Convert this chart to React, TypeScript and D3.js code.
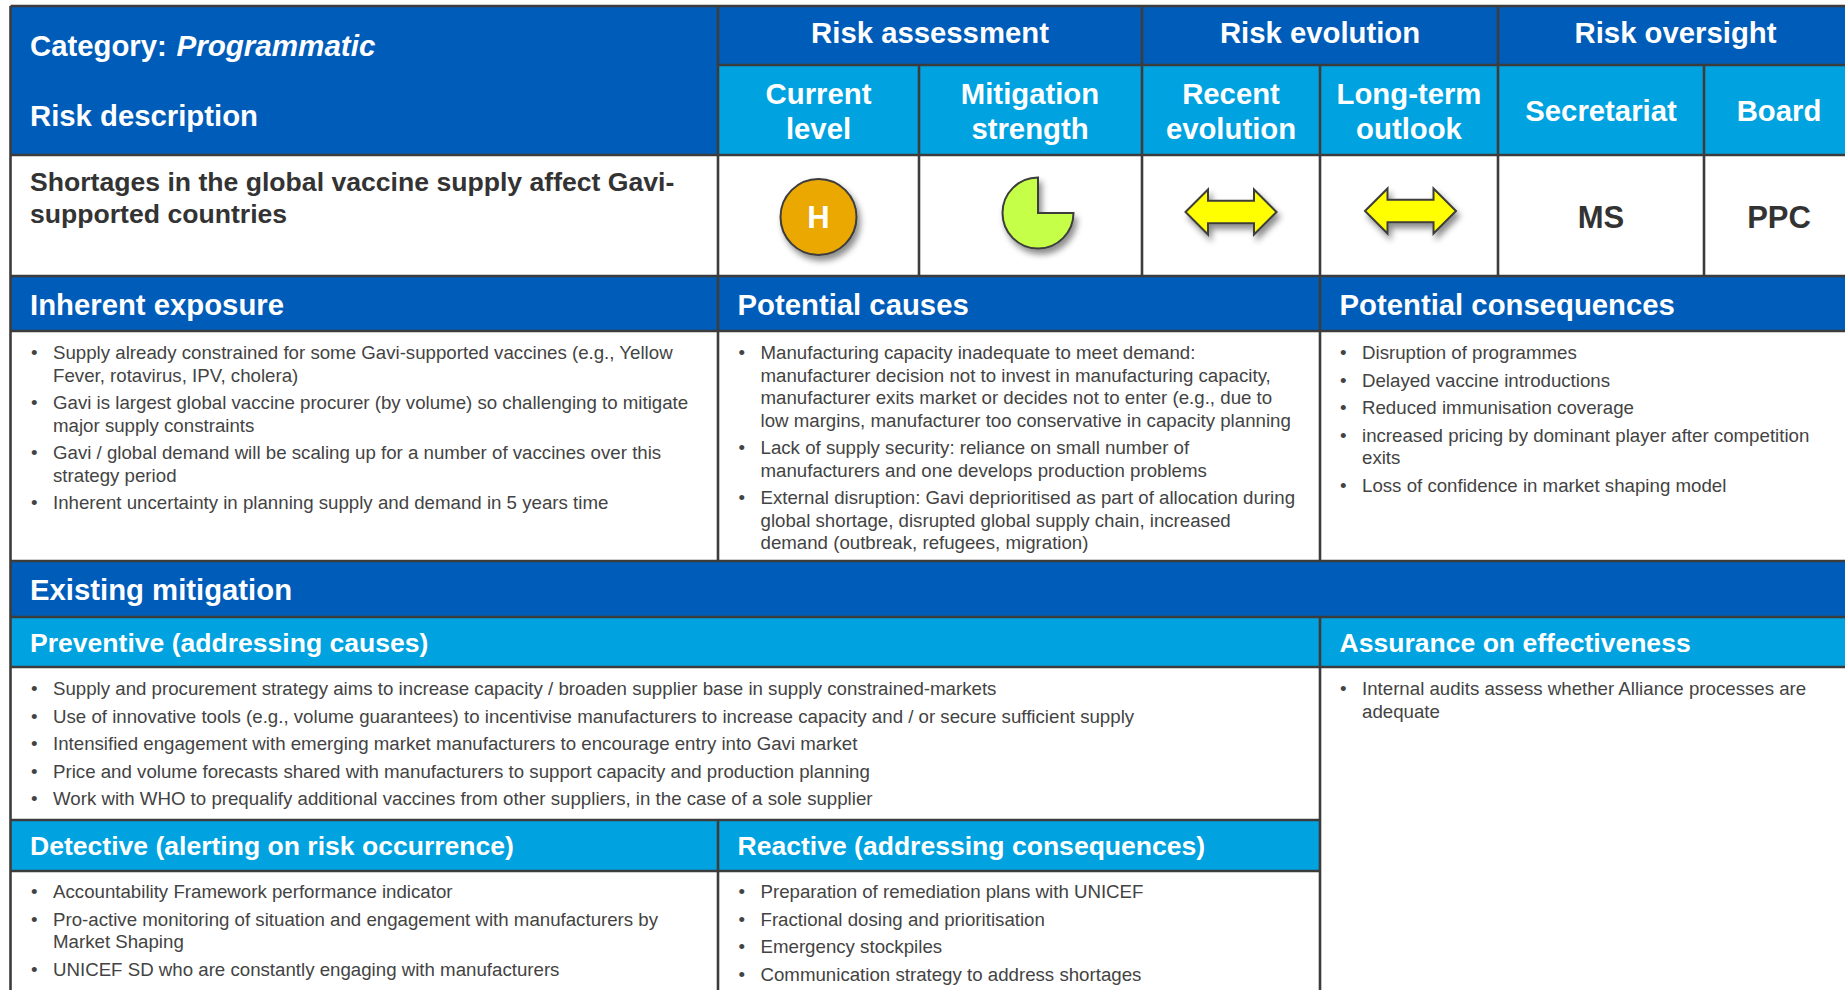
import React from "react";
import * as d3 from "d3";

// text of the risk sheet
const riskTitle = ["Shortages in the global vaccine supply affect Gavi-", "supported countries"];
const groupHeads = ["Risk assessment", "Risk evolution", "Risk oversight"];
const subHeads = [["Current", "level"], ["Mitigation", "strength"], ["Recent", "evolution"], ["Long-term", "outlook"], ["Secretariat"], ["Board"]];
const oversight = ["MS", "PPC"];
const levelLabel = "H";
const mitigationShare = 0.75;

const inherentExposure = [
  ["Supply already constrained for some Gavi-supported vaccines (e.g., Yellow", "Fever, rotavirus, IPV, cholera)"],
  ["Gavi is largest global vaccine procurer (by volume) so challenging to mitigate", "major supply constraints"],
  ["Gavi / global demand will be scaling up for a number of vaccines over this", "strategy period"],
  ["Inherent uncertainty in planning supply and demand in 5 years time"],
];
const potentialCauses = [
  ["Manufacturing capacity inadequate to meet demand:", "manufacturer decision not to invest in manufacturing capacity,", "manufacturer exits market or decides not to enter (e.g., due to", "low margins, manufacturer too conservative in capacity planning"],
  ["Lack of supply security: reliance on small number of", "manufacturers and one develops production problems"],
  ["External disruption: Gavi deprioritised as part of allocation during", "global shortage, disrupted global supply chain, increased", "demand (outbreak, refugees, migration)"],
];
const potentialConsequences = [
  ["Disruption of programmes"],
  ["Delayed vaccine introductions"],
  ["Reduced immunisation coverage"],
  ["increased pricing by dominant player after competition", "exits"],
  ["Loss of confidence in market shaping model"],
];
const preventive = [
  ["Supply and procurement strategy aims to increase capacity / broaden supplier base in supply constrained-markets"],
  ["Use of innovative tools (e.g., volume guarantees) to incentivise manufacturers to increase capacity and / or secure sufficient supply"],
  ["Intensified engagement with emerging market manufacturers to encourage entry into Gavi market"],
  ["Price and volume forecasts shared with manufacturers to support capacity and production planning"],
  ["Work with WHO to prequalify additional vaccines from other suppliers, in the case of a sole supplier"],
];
const assurance = [["Internal audits assess whether Alliance processes are", "adequate"]];
const detective = [
  ["Accountability Framework performance indicator"],
  ["Pro-active monitoring of situation and engagement with manufacturers by", "Market Shaping"],
  ["UNICEF SD who are constantly engaging with manufacturers"],
];
const reactive = [
  ["Preparation of remediation plans with UNICEF"],
  ["Fractional dosing and prioritisation"],
  ["Emergency stockpiles"],
  ["Communication strategy to address shortages"],
];

const W = 1845;
const H = 990;
const DARK = "#005cb9";
const LIGHT = "#00a3e0";
const LINE = "#3c3c3c";
const INK = "#333333";
const BODY_INK = "#434343";
const FONT = "'Liberation Sans', Arial, sans-serif";
const HEAD_SIZE = 29.3;
const SUB_SIZE = 26.55;
const BODY_SIZE = 18.68;
const LINE_GAP = 22.5;
const PARA_GAP = 27.5;

// column and row edges of the grid
const X = [10.5, 718, 919, 1142, 1320, 1498, 1704, W + 8];
const Y = [6, 65, 155, 276, 331, 561, 617, 667, 820, 871, H + 4];

const App = () => {
  const svgRef = React.useRef<SVGSVGElement>(null);

  React.useEffect(() => {
    const svg = d3.select(svgRef.current);
    svg.selectAll("*").remove();

    const shadow = svg.append("defs").append("filter").attr("id", "shadow")
      .attr("x", "-30%").attr("y", "-30%").attr("width", "170%").attr("height", "170%");
    shadow.append("feDropShadow").attr("dx", 3).attr("dy", 5).attr("stdDeviation", 3)
      .attr("flood-color", "#000").attr("flood-opacity", 0.45);

    const band = (x0, x1, y0, y1, fill) =>
      svg.append("rect").attr("x", x0).attr("y", y0).attr("width", x1 - x0).attr("height", y1 - y0).attr("fill", fill);

    // filled bands
    band(X[0], X[7], Y[0], Y[1], DARK);
    band(X[0], X[1], Y[1], Y[2], DARK);
    band(X[1], X[7], Y[1], Y[2], LIGHT);
    band(X[0], X[7], Y[3], Y[4], DARK);
    band(X[0], X[7], Y[5], Y[6], DARK);
    band(X[0], X[7], Y[6], Y[7], LIGHT);
    band(X[0], X[4], Y[8], Y[9], LIGHT);

    // grid lines
    const rule = (x0, y0, x1, y1, w = 2.6, c = LINE) =>
      svg.append("line").attr("x1", x0).attr("y1", y0).attr("x2", x1).attr("y2", y1).attr("stroke", c).attr("stroke-width", w);
    [0, 2, 3, 4, 5, 6, 7].forEach((i) => rule(X[0], Y[i], X[7], Y[i]));
    rule(X[1], Y[1], X[7], Y[1]);
    rule(X[0], Y[8], X[4], Y[8]);
    rule(X[0], Y[9], X[4], Y[9]);
    rule(X[0], Y[0], X[0], H);
    rule(X[1], Y[0], X[1], Y[5]);
    rule(X[1], Y[8], X[1], H);
    rule(X[2], Y[1], X[2], Y[3]);
    rule(X[3], Y[0], X[3], Y[3]);
    rule(X[4], Y[1], X[4], Y[3]);
    rule(X[4], Y[3], X[4], Y[5]);
    rule(X[4], Y[6], X[4], H);
    rule(X[5], Y[0], X[5], Y[3]);
    rule(X[6], Y[1], X[6], Y[3]);

    const label = (t, x, y, { size = HEAD_SIZE, fill = "#fff", bold = true, anchor = "start" } = {}) =>
      svg.append("text").attr("x", x).attr("y", y).text(t)
        .attr("font-family", FONT).attr("font-size", size)
        .attr("font-weight", bold ? 700 : 400)
        .attr("text-anchor", anchor).attr("fill", fill);

    // headers
    const cat = label("Category: ", 30, 55.5);
    cat.append("tspan").attr("font-style", "italic").attr("dx", 1.5).attr("font-size", 29.6).text("Programmatic");
    label("Risk description", 30, 125.5);
    riskTitle.forEach((t, i) => label(t, 30, 191 + i * 32, { size: 26.6, fill: INK }));
    label("Inherent exposure", 30, 314.5);
    label("Potential causes", 737.5, 314.5);
    label("Potential consequences", 1339.5, 314.5);
    label("Existing mitigation", 30, 600);
    label("Preventive (addressing causes)", 30, 651.5, { size: SUB_SIZE });
    label("Assurance on effectiveness", 1339.5, 651.5, { size: SUB_SIZE });
    label("Detective (alerting on risk occurrence)", 30, 855, { size: SUB_SIZE });
    label("Reactive (addressing consequences)", 737.5, 855, { size: SUB_SIZE });

    const groupCols = [[1, 3], [3, 5], [5, 7]];
    groupHeads.forEach((t, i) => {
      const [a, b] = groupCols[i];
      label(t, (X[a] + X[b]) / 2, 43, { anchor: "middle" });
    });

    const colCentre = d3.scaleOrdinal<number, number>()
      .domain(d3.range(6))
      .range([818.5, 1030, 1231, 1409, 1601, 1779]);
    subHeads.forEach((lines, i) => {
      if (lines.length === 1) label(lines[0], colCentre(i), 120.5, { anchor: "middle" });
      else lines.forEach((t, j) => label(t, colCentre(i), 104 + j * 35, { anchor: "middle" }));
    });
    oversight.forEach((t, i) => label(t, colCentre(4 + i), 228, { anchor: "middle", size: 31, fill: INK }));

    // current level
    svg.append("circle").attr("cx", colCentre(0)).attr("cy", 217).attr("r", 38)
      .attr("fill", "#eaa800").attr("stroke", LINE).attr("stroke-width", 2).attr("filter", "url(#shadow)");
    label(levelLabel, colCentre(0), 228, { anchor: "middle", size: 31 });

    // mitigation strength pie, the open quarter sits top right
    const pieAngle = d3.scaleLinear().domain([0, 1]).range([0, 2 * Math.PI]);
    const arc = d3.arc().innerRadius(0).outerRadius(35.5);
    svg.append("path")
      .attr("d", arc({ startAngle: pieAngle(1 - mitigationShare), endAngle: pieAngle(1) } as any))
      .attr("transform", "translate(1038,213)")
      .attr("fill", "#c6ff47").attr("stroke", LINE).attr("stroke-width", 2).attr("filter", "url(#shadow)");

    // evolution arrows
    const arrow = d3.line().curve(d3.curveLinearClosed);
    const arrowShape = arrow([
      [-45.5, 0], [-23, -22.5], [-23, -11.3], [23, -11.3], [23, -22.5], [45.5, 0], [23, 22.5], [23, 11.3], [-23, 11.3], [-23, 22.5],
    ]);
    [[1231, 212], [1410.5, 211]].forEach(([x, y]) =>
      svg.append("path").attr("d", arrowShape).attr("transform", `translate(${x},${y})`)
        .attr("fill", "#ffff00").attr("stroke", LINE).attr("stroke-width", 2).attr("stroke-linejoin", "miter").attr("filter", "url(#shadow)"));

    // bullet lists
    const bullets = (list, x, y0) => {
      let y = y0;
      list.forEach((lines) => {
        label("•", x - 22, y, { size: BODY_SIZE, fill: BODY_INK, bold: false });
        lines.forEach((t, i) => {
          label(t, x, y, { size: BODY_SIZE, fill: BODY_INK, bold: false });
          if (i < lines.length - 1) y += LINE_GAP;
        });
        y += PARA_GAP;
      });
    };
    bullets(inherentExposure, 53, 359);
    bullets(potentialCauses, 760.5, 359);
    bullets(potentialConsequences, 1362, 359);
    bullets(preventive, 53, 695);
    bullets(assurance, 1362, 695);
    bullets(detective, 53, 898);
    bullets(reactive, 760.5, 898);
  }, []);

  return <svg ref={svgRef} width={W} height={H} style={{ position: "fixed", left: 0, top: 0, background: "#fff" }} />;
};

export default App;
